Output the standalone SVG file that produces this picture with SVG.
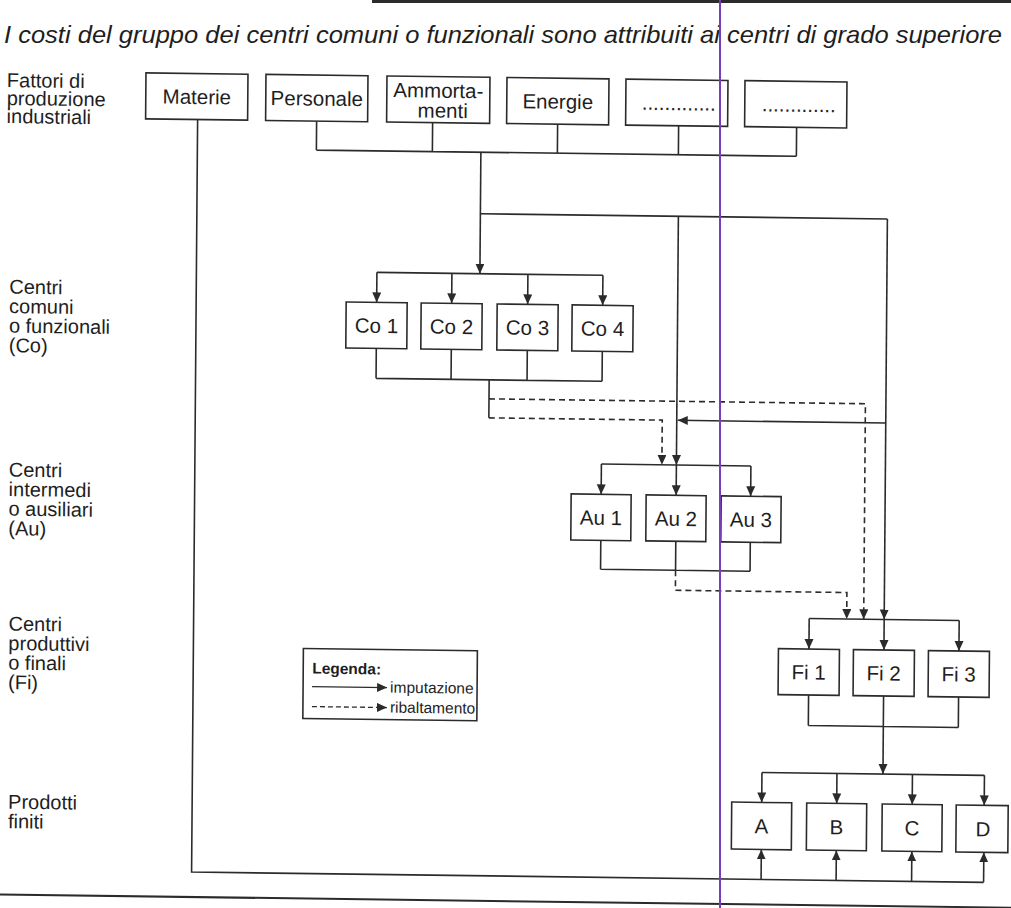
<svg xmlns="http://www.w3.org/2000/svg" width="1011" height="908" viewBox="0 0 1011 908">
  <style>
    .box { fill: #ffffff; stroke: #2b2b2b; stroke-width: 1.6; }
    .ln { fill: none; stroke: #2b2b2b; stroke-width: 1.6; }
    .dash { fill: none; stroke: #2b2b2b; stroke-width: 1.6; stroke-dasharray: 6 4; }
    .arr { marker-end: url(#head); }
    .t { font-family: "Liberation Sans", Arial, sans-serif; font-size: 20.5px; fill: #1e1e1e; }
    .row { font-family: "Liberation Sans", Arial, sans-serif; font-size: 20px; fill: #1e1e1e; }
    .c { text-anchor: middle; }
    .lg { font-family: "Liberation Sans", Arial, sans-serif; font-size: 15.5px; fill: #1e1e1e; }
    .title { font-family: "Liberation Sans", Arial, sans-serif; font-size: 24px; font-style: italic; fill: #1e1e1e; }
  </style>
  <defs>
    <marker id="head" markerUnits="userSpaceOnUse" markerWidth="11" markerHeight="10" refX="10" refY="4.5" orient="auto">
      <path d="M0,0 L10,4.5 L0,9 Z" fill="#2b2b2b"/>
    </marker>
  </defs>

  <rect x="0" y="0" width="1011" height="908" fill="#ffffff"/>
  <!-- cut-off edge of the heading above -->
  <rect x="372" y="0" width="639" height="3" fill="#2b2b2b"/>

  <text class="title" x="4" y="43" textLength="998" lengthAdjust="spacingAndGlyphs">I costi del gruppo dei centri comuni o funzionali sono attribuiti ai centri di grado superiore</text>

  <g id="chart" transform="matrix(1,0.013,-0.008,1,3.6,-6.5)">
    <!-- row labels -->
    <g id="row-labels" class="row">
      <text x="4" y="93.5">Fattori di</text>
      <text x="4" y="111.5">produzione</text>
      <text x="4" y="129.5">industriali</text>
      <text x="8" y="300">Centri</text>
      <text x="8" y="319.5">comuni</text>
      <text x="8" y="339">o funzionali</text>
      <text x="8" y="358.5">(Co)</text>
      <text x="9" y="483">Centri</text>
      <text x="9" y="502.5">intermedi</text>
      <text x="9" y="522">o ausiliari</text>
      <text x="9" y="541.5">(Au)</text>
      <text x="10" y="637">Centri</text>
      <text x="10" y="656.5">produttivi</text>
      <text x="10" y="676">o finali</text>
      <text x="10" y="695.5">(Fi)</text>
      <text x="11" y="815">Prodotti</text>
      <text x="11" y="834.5">finiti</text>
    </g>

    <!-- connectors -->
    <g id="connectors">
      <!-- production factors bus -->
      <path class="ln" d="M314,123.5 V152.5 M430,123.5 V152.5 M555,123.5 V152.5 M676,123.5 V152.5 M794,123.5 V152.5 M314,152.5 H794"/>
      <path class="ln arr" d="M478.5,152.5 V274"/>
      <path class="ln" d="M478.5,214 H885.5"/>
      <!-- common centres -->
      <path class="ln" d="M375.5,274 H601.5"/>
      <path class="ln arr" d="M375.5,274 V304"/>
      <path class="ln arr" d="M450.5,274 V304"/>
      <path class="ln arr" d="M526.5,274 V304"/>
      <path class="ln arr" d="M601.5,274 V304"/>
      <path class="ln" d="M375.5,350 V380 M450.5,350 V380 M526.5,350 V380 M601.5,350 V380 M375.5,380 H601.5 M488.6,380 V418"/>
      <path class="dash arr" d="M488.6,399 H865 V614.5"/>
      <path class="dash arr" d="M488.6,418 H662 V462.7"/>
      <!-- direct charges to auxiliary and final centres -->
      <path class="ln arr" d="M676.5,214 V462.7"/>
      <path class="ln arr" d="M885.5,214 V614.5"/>
      <path class="ln arr" d="M885.5,418 H677.5"/>
      <!-- auxiliary centres -->
      <path class="ln" d="M601.5,462.7 H751"/>
      <path class="ln arr" d="M601.5,462.7 V493"/>
      <path class="ln arr" d="M676.5,462.7 V493"/>
      <path class="ln arr" d="M751,462.7 V493"/>
      <path class="ln" d="M601.5,539 V568 M676.5,539 V568 M751,539 V568 M601.5,568 H751"/>
      <path class="dash arr" d="M676.5,568 V588 H848 V614.5"/>
      <!-- final centres -->
      <path class="ln" d="M810.5,614.5 H960.5"/>
      <path class="ln arr" d="M810.5,614.5 V645"/>
      <path class="ln arr" d="M885.5,614.5 V645"/>
      <path class="ln arr" d="M960.5,614.5 V645"/>
      <path class="ln" d="M810.5,691 V721.5 M885.5,691 V721.5 M960.5,691 V721.5 M810.5,721.5 H960.5"/>
      <path class="ln arr" d="M885.5,721.5 V769"/>
      <!-- finished products -->
      <path class="ln" d="M764.5,769 H987"/>
      <path class="ln arr" d="M764.5,769 V799"/>
      <path class="ln arr" d="M839.5,769 V799"/>
      <path class="ln arr" d="M915,769 V799"/>
      <path class="ln arr" d="M987,769 V799"/>
      <!-- direct materials -->
      <path class="ln" d="M195,123.5 V876 H987"/>
      <path class="ln arr" d="M764.5,876 V846"/>
      <path class="ln arr" d="M839.5,876 V846"/>
      <path class="ln arr" d="M915,876 V846"/>
      <path class="ln arr" d="M987,876 V846"/>
      <!-- page rule -->
      <path class="ln" style="stroke-width:2" d="M-20,901 H1030"/>
    </g>

    <!-- production factors -->
    <g id="materie"><rect class="box" x="143" y="77.5" width="102" height="46"/><text class="t c" x="194" y="108">Materie</text></g>
    <g id="personale"><rect class="box" x="263" y="77.5" width="102" height="46"/><text class="t c" x="314" y="108">Personale</text></g>
    <g id="ammortamenti"><rect class="box" x="384" y="77.5" width="103" height="46"/><text class="t c" x="435.5" y="98.5">Ammorta-</text><text class="t c" x="440" y="118.5">menti</text></g>
    <g id="energie"><rect class="box" x="504" y="77.5" width="102" height="46"/><text class="t c" x="555" y="108">Energie</text></g>
    <g id="altro-1"><rect class="box" x="623" y="77.5" width="102" height="46"/><text class="t c" x="676" y="108">.............</text></g>
    <g id="altro-2"><rect class="box" x="742" y="77.5" width="102" height="46"/><text class="t c" x="796" y="108">.............</text></g>

    <!-- common centres -->
    <g id="co1"><rect class="box" x="345" y="304" width="61" height="46"/><text class="t c" x="375.5" y="334.5">Co 1</text></g>
    <g id="co2"><rect class="box" x="420" y="304" width="61" height="46"/><text class="t c" x="450.5" y="334.5">Co 2</text></g>
    <g id="co3"><rect class="box" x="496" y="304" width="61" height="46"/><text class="t c" x="526.5" y="334.5">Co 3</text></g>
    <g id="co4"><rect class="box" x="571" y="304" width="61" height="46"/><text class="t c" x="601.5" y="334.5">Co 4</text></g>

    <!-- auxiliary centres -->
    <g id="au1"><rect class="box" x="571.5" y="493" width="60" height="46"/><text class="t c" x="601.5" y="523.5">Au 1</text></g>
    <g id="au2"><rect class="box" x="646.5" y="493" width="60" height="46"/><text class="t c" x="676.5" y="523.5">Au 2</text></g>
    <g id="au3"><rect class="box" x="721.5" y="493" width="60" height="46"/><text class="t c" x="751.5" y="523.5">Au 3</text></g>

    <!-- final centres -->
    <g id="fi1"><rect class="box" x="780" y="645" width="61" height="46"/><text class="t c" x="810.5" y="675.5">Fi 1</text></g>
    <g id="fi2"><rect class="box" x="855" y="645" width="61" height="46"/><text class="t c" x="885.5" y="675.5">Fi 2</text></g>
    <g id="fi3"><rect class="box" x="930" y="645" width="61" height="46"/><text class="t c" x="960.5" y="675.5">Fi 3</text></g>

    <!-- finished products -->
    <g id="prod-a"><rect class="box" x="734.5" y="799" width="60" height="47"/><text class="t c" x="764.5" y="830">A</text></g>
    <g id="prod-b"><rect class="box" x="809.5" y="799" width="60" height="47"/><text class="t c" x="839.5" y="830">B</text></g>
    <g id="prod-c"><rect class="box" x="885" y="799" width="60" height="47"/><text class="t c" x="915" y="830">C</text></g>
    <g id="prod-d"><rect class="box" x="959" y="799" width="52" height="47"/><text class="t c" x="986" y="830">D</text></g>

    <!-- key -->
    <g id="legenda">
      <rect class="box" x="305" y="651" width="174" height="70"/>
      <text class="lg" x="314" y="676" font-weight="bold">Legenda:</text>
      <path class="ln arr" style="stroke-width:1.3" d="M314,689 H389"/>
      <text class="lg" x="392" y="694">imputazione</text>
      <path class="dash arr" style="stroke-width:1.3;stroke-dasharray:5 3" d="M314,709 H389"/>
      <text class="lg" x="392" y="714">ribaltamento</text>
    </g>
  </g>

  <!-- vertical marker line -->
  <line x1="720" y1="0" x2="720" y2="908" stroke="#7a3db8" stroke-width="2"/>
</svg>
